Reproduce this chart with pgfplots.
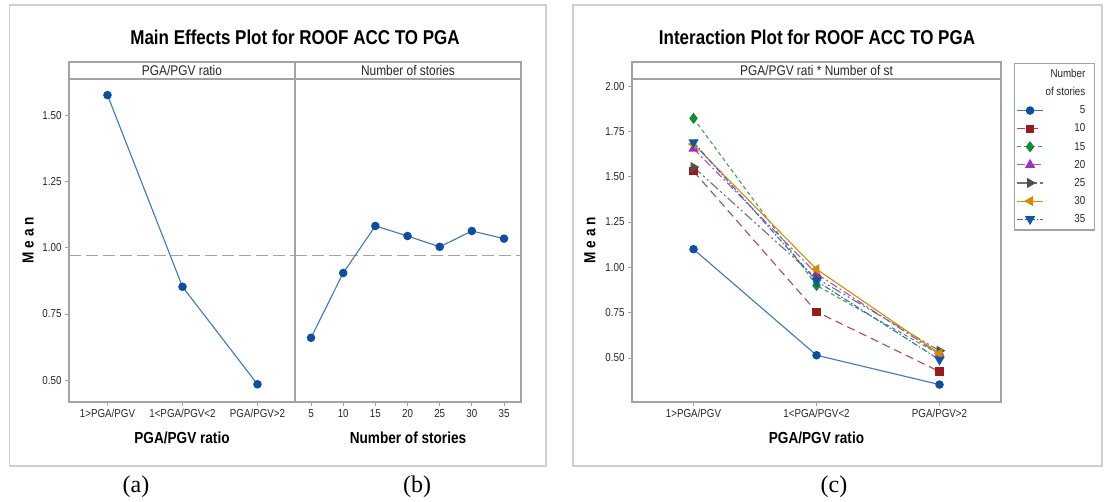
\documentclass[border=0pt]{standalone}
\usepackage{fontspec}
\setmainfont{Liberation Sans}[FakeStretch=0.85]
\newfontfamily\tnr{Liberation Serif}
\usepackage{pgfplots}
\pgfplotsset{compat=1.18}

\definecolor{axgray}{HTML}{A3A3A3}
\definecolor{framegray}{HTML}{D0D0D0}
\definecolor{mblue}{HTML}{0B4EA2}
\definecolor{lblue}{HTML}{3A78C4}
\definecolor{mred}{HTML}{9B1B1B}
\definecolor{mgreen}{HTML}{138A36}
\definecolor{mpurple}{HTML}{9B30C8}
\definecolor{mgrey}{HTML}{505050}
\definecolor{morange}{HTML}{D98B00}
\definecolor{mblue2}{HTML}{0A56A8}

\newcommand{\tickfont}{\fontsize{11.5}{13}\selectfont}
\newcommand{\labfont}{\bfseries\fontsize{16}{18}\selectfont}
\newcommand{\rp}{\hspace*{5pt}}

\pgfplotsset{
  minitab/.style={
    scale only axis,
    axis line style={axgray, line width=1.2pt},
    tick style={axgray, line width=0.8pt},
    tick align=outside,
    major tick length=4pt,
    xtick pos=bottom, ytick pos=left,
    ticklabel style={font=\tickfont, text=black!85},
    /pgf/number format/assume math mode=true,
    clip=false,
    xlabel style={font=\labfont, anchor=center},
    ylabel style={font=\labfont, anchor=center, rotate=0},
  },
}

\begin{document}
\begin{tikzpicture}
\path[use as bounding box] (0pt,0pt) rectangle (1105pt,502pt);

% frames
\draw[framegray, line width=1.5pt] (9.6pt,36pt) rectangle (546pt,497pt);
\draw[framegray, line width=1.5pt] (573pt,36pt) rectangle (1102pt,497pt);

% titles
\node[font=\bfseries\fontsize{20}{22}\selectfont] at (295pt,465pt) {Main Effects Plot for ROOF ACC TO PGA};
\node[font=\bfseries\fontsize{20}{22}\selectfont] at (817pt,465pt) {Interaction Plot for ROOF ACC TO PGA};

% strips
\draw[axgray, line width=1.2pt] (69pt,423pt) rectangle (521pt,440pt);
\draw[axgray, line width=1.2pt] (295pt,423pt) -- (295pt,440pt);
\node[font=\fontsize{14}{16}\selectfont, text=black!85] at (182pt,431.5pt) {PGA/PGV ratio};
\node[font=\fontsize{14}{16}\selectfont, text=black!85] at (408pt,431.5pt) {Number of stories};
\draw[axgray, line width=1.2pt] (632pt,423pt) rectangle (1001pt,440pt);
\node[font=\fontsize{14}{16}\selectfont, text=black!85] at (816.5pt,431.5pt) {PGA/PGV rati * Number of st};

% panel (a)
\begin{axis}[minitab, at={(69pt,100pt)}, anchor=south west, width=226pt, height=323pt,
  xmin=0.487, xmax=3.5, ymin=0.417, ymax=1.639,
  xtick={1,2,3}, xticklabels={1>PGA/PGV,1<PGA/PGV<2,PGA/PGV>2},
  ytick={0.5,0.75,1,1.25,1.5}, yticklabels={0.50,0.75,1.00,1.25,1.50},
  xlabel={PGA/PGV ratio}, xlabel style={at={(axis description cs:0.5,-0.111)}},
  ylabel={M\kern4pt e\kern4pt a\kern4pt n}, ylabel style={at={(axis description cs:-0.181,0.5)}, rotate=0},
]
\addplot[axgray, line width=1pt, dash pattern=on 12pt off 5pt] coordinates {(0.487,0.97) (3.5,0.97)};
\addplot[lblue, line width=1.1pt, mark=*, mark size=3.7pt, mark options={fill=mblue, draw=mblue}]
  coordinates {(1,1.578) (2,0.853) (3,0.484)};
\end{axis}

% panel (b)
\begin{axis}[minitab, at={(295pt,100pt)}, anchor=south west, width=226pt, height=323pt,
  xmin=2.51, xmax=37.64, ymin=0.417, ymax=1.639,
  xtick={5,10,15,20,25,30,35}, ytick=\empty,
  xlabel={Number of stories}, xlabel style={at={(axis description cs:0.5,-0.111)}},
]
\addplot[axgray, line width=1pt, dash pattern=on 12pt off 5pt] coordinates {(2.51,0.97) (37.64,0.97)};
\addplot[lblue, line width=1.1pt, mark=*, mark size=3.7pt, mark options={fill=mblue, draw=mblue}]
  coordinates {(5,0.660) (10,0.905) (15,1.083) (20,1.045) (25,1.004) (30,1.064) (35,1.035)};
\end{axis}

% panel (c)
\begin{axis}[minitab, at={(632pt,100pt)}, anchor=south west, width=369pt, height=323pt,
  xmin=0.5, xmax=3.5, ymin=0.257, ymax=2.039,
  xtick={1,2,3}, xticklabels={1>PGA/PGV,1<PGA/PGV<2,PGA/PGV>2},
  ytick={0.5,0.75,1,1.25,1.5,1.75,2}, yticklabels={0.50,0.75,1.00,1.25,1.50,1.75,2.00},
  xlabel={PGA/PGV ratio}, xlabel style={at={(axis description cs:0.5,-0.111)}},
  ylabel={M\kern4pt e\kern4pt a\kern4pt n}, ylabel style={at={(axis description cs:-0.114,0.5)}},
  legend cell align=right,
  legend image code/.code={\draw[mark repeat=2,mark phase=2] plot coordinates {(0pt,0pt) (13pt,0pt) (26pt,0pt)};},
  legend style={at={(axis description cs:1.035,1.0495)}, anchor=north west, draw=axgray, line width=1.2pt,
    font=\tickfont, text=black!85, row sep=2.6pt, inner xsep=2pt, inner ysep=3pt,
    nodes={inner sep=2pt, text height=9pt, text depth=2.5pt}},
]
\addlegendimage{empty legend}\addlegendentry{Number\rp}
\addlegendimage{empty legend}\addlegendentry{of stories\rp}
\addplot[lblue, line width=1.1pt, mark=*, mark size=3.7pt, mark options={fill=mblue, draw=mblue, solid}]
  coordinates {(1,1.100) (2,0.515) (3,0.353)};
\addlegendentry{5\rp}
\addplot[mred!80, line width=1.1pt, dash pattern=on 8pt off 5pt, mark=square*, mark size=3.6pt, mark options={fill=mred, draw=mred, solid}]
  coordinates {(1,1.530) (2,0.755) (3,0.425)};
\addlegendentry{10\rp}
\addplot[mgreen!80, line width=1.1pt, dash pattern=on 4pt off 3pt, mark=diamond*, mark size=4.8pt, mark options={fill=mgreen, draw=mgreen, solid}]
  coordinates {(1,1.822) (2,0.900) (3,0.520)};
\addlegendentry{15\rp}
\addplot[mpurple!85, line width=1.1pt, dash pattern=on 8pt off 3pt on 2pt off 3pt, mark=triangle*, mark size=4.8pt, mark options={fill=mpurple, draw=mpurple, solid}]
  coordinates {(1,1.655) (2,0.965) (3,0.520)};
\addlegendentry{20\rp}
\addplot[mgrey!80, line width=1.1pt, dash pattern=on 10pt off 3pt on 2pt off 3pt on 2pt off 3pt, mark=triangle*, mark size=4.8pt, mark options={fill=mgrey, draw=mgrey, solid, rotate=-90}]
  coordinates {(1,1.553) (2,0.940) (3,0.540)};
\addlegendentry{25\rp}
\addplot[morange, line width=1.1pt, mark=triangle*, mark size=4.8pt, mark options={fill=morange, draw=morange, solid, rotate=90}]
  coordinates {(1,1.680) (2,0.990) (3,0.525)};
\addlegendentry{30\rp}
\addplot[mblue2!85, line width=1.1pt, dash pattern=on 6pt off 2pt on 1.5pt off 2pt, mark=triangle*, mark size=4.8pt, mark options={fill=mblue2, draw=mblue2, solid, rotate=180}]
  coordinates {(1,1.690) (2,0.925) (3,0.490)};
\addlegendentry{35\rp}
\end{axis}

% captions
\node[font=\tnr\fontsize{24}{26}\selectfont] at (136pt,15pt) {(a)};
\node[font=\tnr\fontsize{24}{26}\selectfont] at (417pt,15pt) {(b)};
\node[font=\tnr\fontsize{24}{26}\selectfont] at (834pt,15pt) {(c)};
\end{tikzpicture}
\end{document}
